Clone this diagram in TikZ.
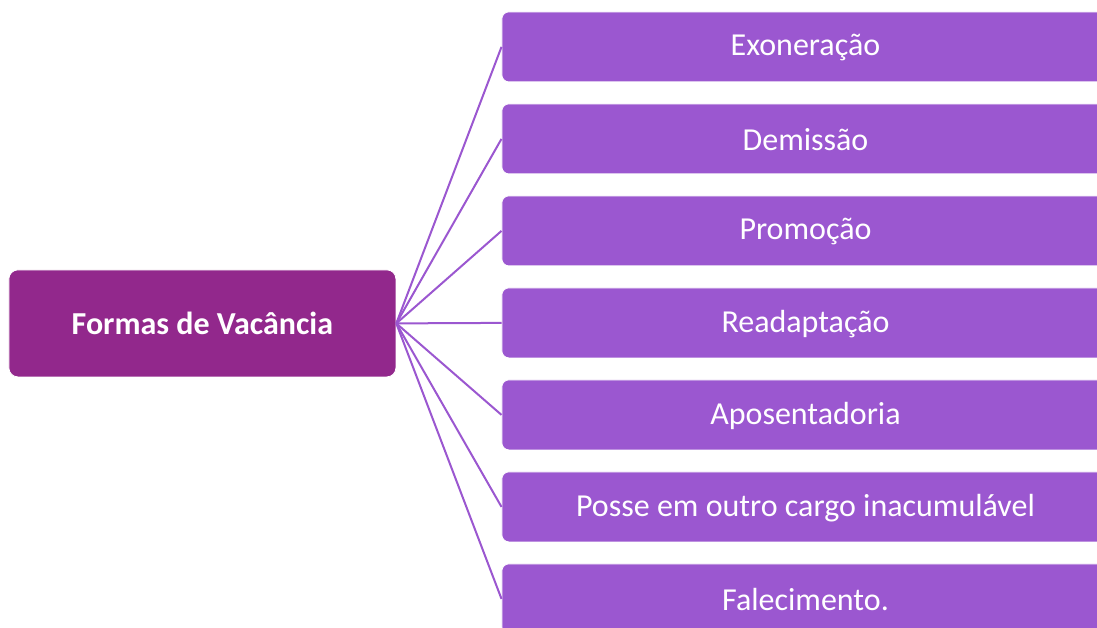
\documentclass[tikz,border=0pt]{standalone}
\usepackage{fontspec}
\setmainfont{Carlito}
\definecolor{leaf}{RGB}{155,87,208}
\definecolor{root}{RGB}{146,40,140}
\begin{document}
\begin{tikzpicture}[x=1pt,y=-1pt,
  leafbox/.style={fill=leaf,draw=white,line width=0.8pt,rounded corners=7pt,minimum width=620pt,minimum height=70pt,inner sep=0pt,anchor=north west},
  leaftext/.style={text=white,font=\fontsize{32}{36}\selectfont,anchor=center},
  rootbox/.style={fill=root,draw=white,line width=0.8pt,rounded corners=9pt,minimum width=387pt,minimum height=107pt,inner sep=0pt,anchor=north west},
  link/.style={draw=leaf,line width=2pt}]
\useasboundingbox (0,0) rectangle (1097,628);
\begin{scope}
\clip (0,0) rectangle (1097,628);
\node[rootbox] (root) at (8.5,269.5) {};
\node[text=white,font=\bfseries\fontsize{32}{36}\selectfont] (roottext) at (root.center) {Formas de Vacância};
\foreach \i/\t in {1/Exoneração,2/Demissão,3/Promoção,4/Readaptação,5/Aposentadoria,6/Posse em outro cargo inacumulável,7/Falecimento.}{
  \node[leafbox] (b\i) at (501.5,{11.5+92*(\i-1)}) {};
  \path (b\i.west) ++(304,1) node[leaftext] (t\i) {\t};
  \draw[link] (root.east) -- (b\i.west);
}
\end{scope}
\end{tikzpicture}
\end{document}
